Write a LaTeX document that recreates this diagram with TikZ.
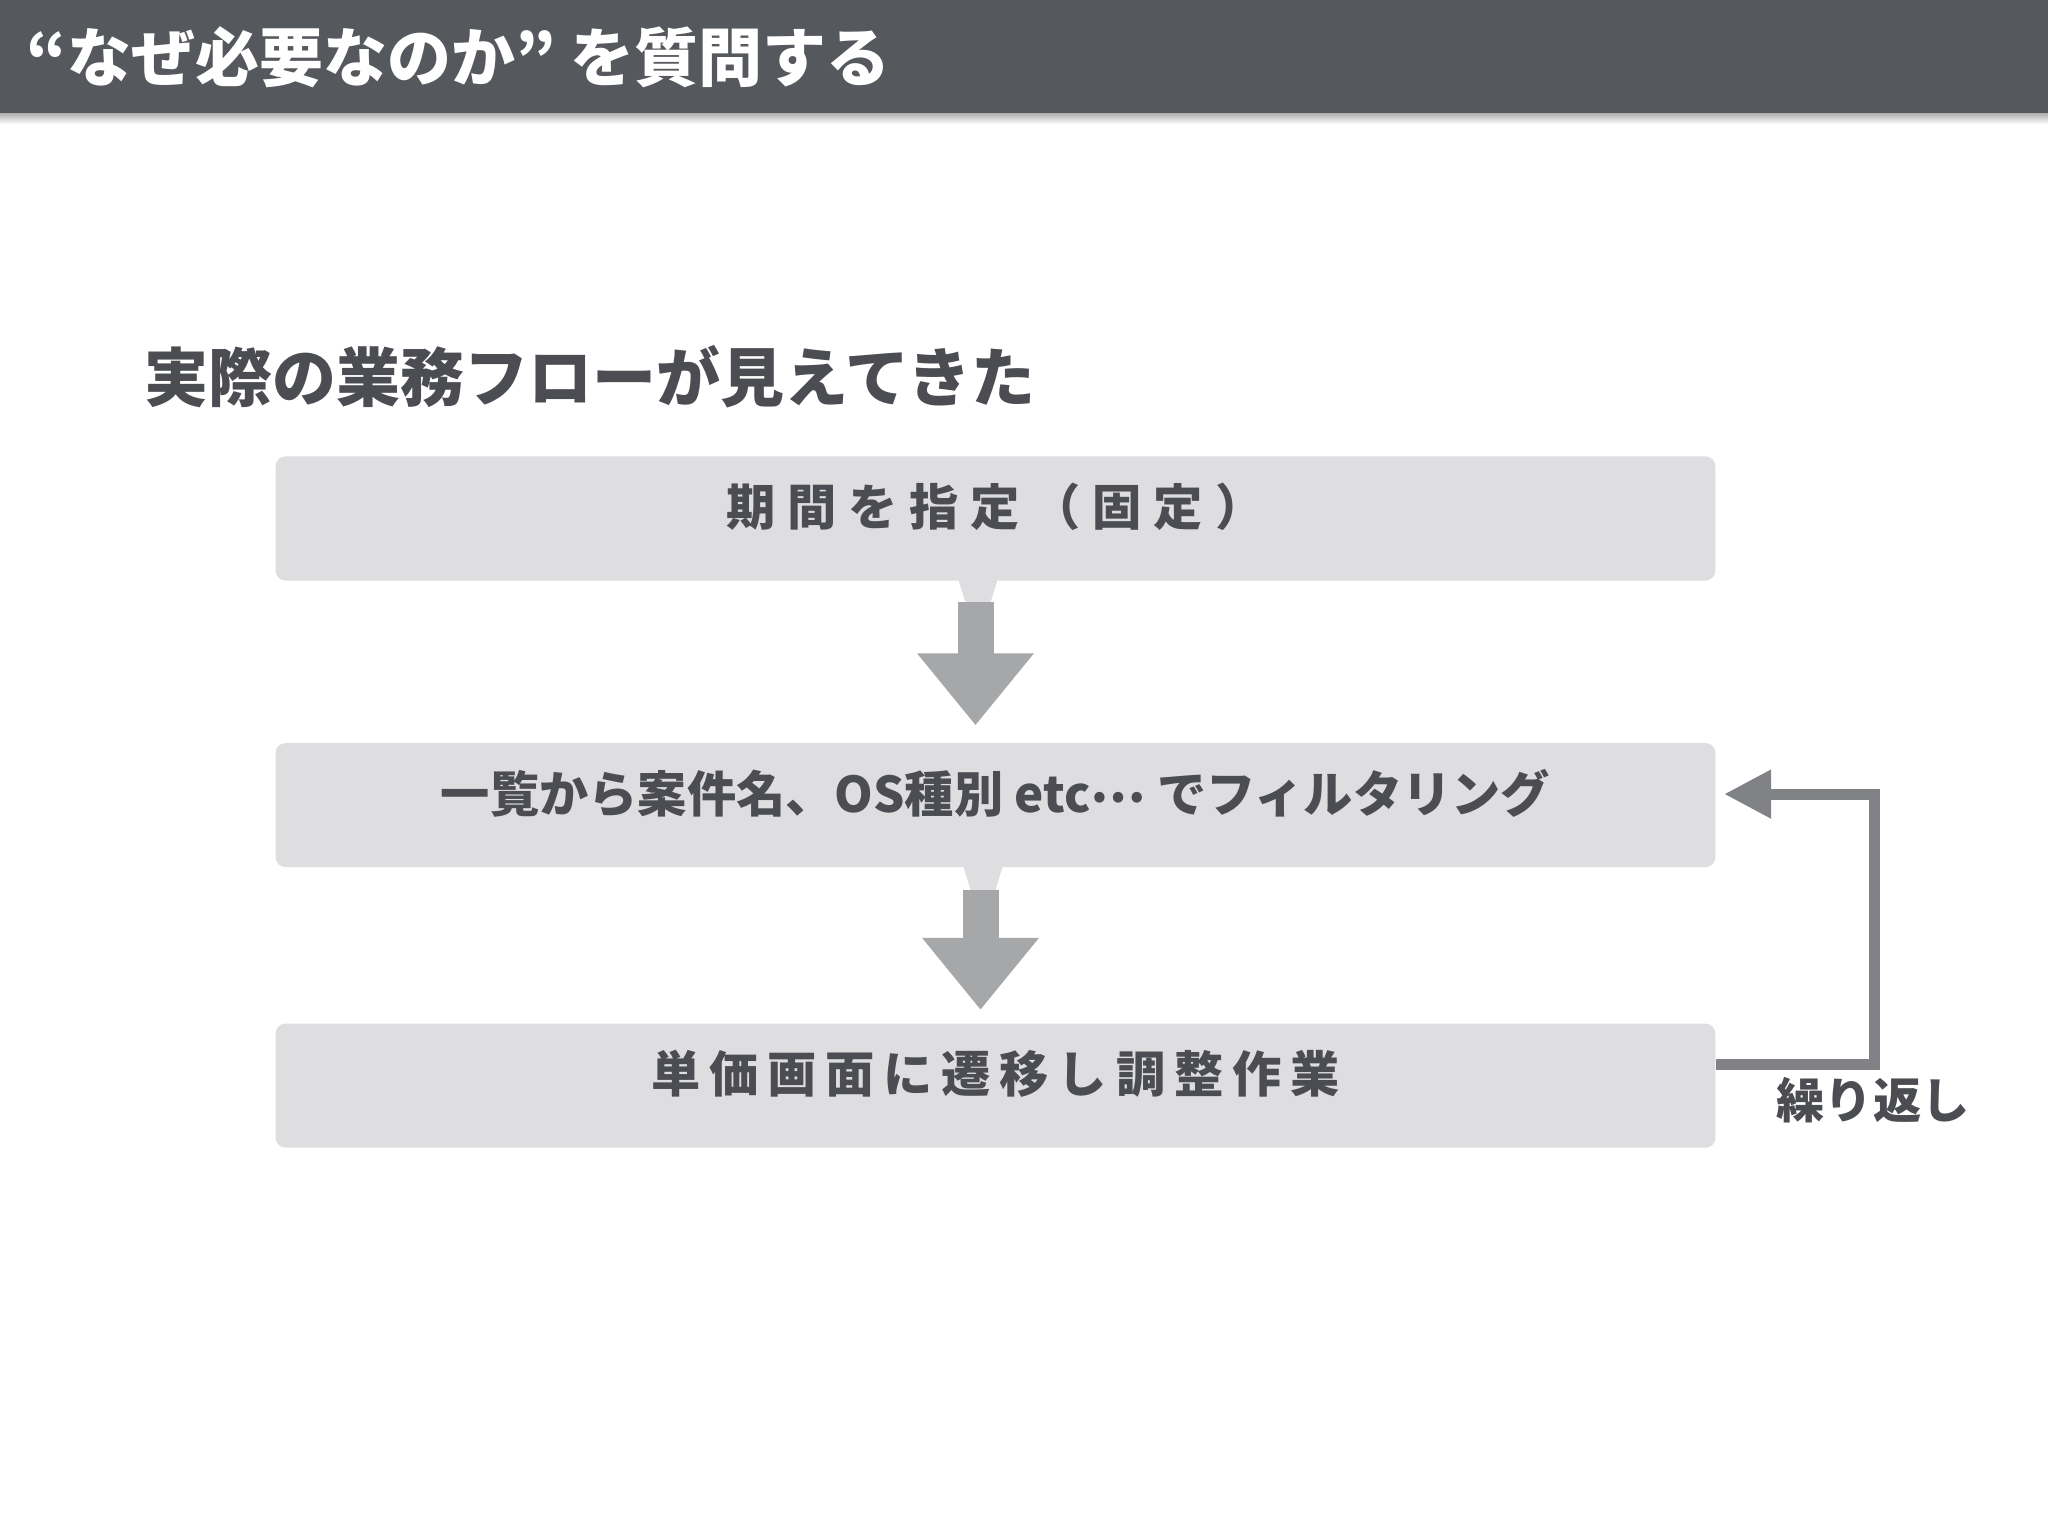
\documentclass[tikz,border=0pt]{standalone}
\usepackage{fontspec}
\setmainfont{Noto Sans CJK JP}
\newfontfamily\spacedjp{Noto Sans CJK JP}[LetterSpace=18]
\newfontfamily\widespacedjp{Noto Sans CJK JP}[LetterSpace=24]
\usetikzlibrary{arrows.meta}
\usetikzlibrary{calc,positioning}
\definecolor{bargrey}{HTML}{55585D}
\definecolor{boxgrey}{HTML}{DEDEE1}
\definecolor{textgrey}{HTML}{4B4D52}
\definecolor{arrowgrey}{HTML}{A6A7A9}
\definecolor{loopgrey}{HTML}{808286}
\newcommand{\middots}{\raisebox{0.2em}{…}}

\begin{document}
\begin{tikzpicture}[x=0.01cm, y=-0.01cm,
    flowbox/.style={fill=boxgrey, rounded corners=0.1cm, minimum width=14.39cm, minimum height=1.24cm,
        text=textgrey, font=\bfseries\fontsize{14}{16}\selectfont, text height=0.42cm, text depth=0.28cm},
    downarrow/.style={draw=arrowgrey, line width=0.36cm, -{Triangle[length=0.72cm, width=1.12cm]}},
    looparrow/.style={draw=loopgrey, line width=0.11cm, line join=miter, -{Triangle[length=0.47cm, width=0.46cm]}}]

    \useasboundingbox (0,0) rectangle (2048,1536);
    \fill[white] (0,0) rectangle (2048,1536);

    % header
    \shade[top color=black!35, bottom color=white] (0,112) rectangle (2048,124);
    \fill[bargrey] (0,0) rectangle (2048,113);
    \node[anchor=west, inner sep=0pt, text=white, font=\bfseries\fontsize{18.2}{20}\selectfont] (title) at (26,57) {“なぜ必要なのか” を質問する};

    \node[anchor=west, inner sep=0pt, text=textgrey, font=\bfseries\fontsize{18.2}{20}\selectfont] (sub) at (144,377) {実際の業務フローが見えてきた};

    % flow
    \node[flowbox] (b1) at (995.5,518.5) {\widespacedjp 期間を指定（固定）};
    \node[flowbox, below=1.61cm of b1] (b2) {一覧から案件名、OS種別 etc\middots{} でフィルタリング};
    \node[flowbox, below=1.55cm of b2] (b3) {\spacedjp 単価画面に遷移し調整作業};

    \fill[boxgrey] ($(b1.south)+(-37,-1)$) -- ++(39,0) -- ++(-7,22) -- ++(-25,0) -- cycle;
    \fill[boxgrey] ($(b2.south)+(-32,-1)$) -- ++(39,0) -- ++(-7,23) -- ++(-25,0) -- cycle;
    \draw[downarrow] ($(b1.south)+(-20,21)$) -- ($(b2.north)+(-20,-17)$);
    \draw[downarrow] ($(b2.south)+(-15,22)$) -- ($(b3.north)+(-15,-13)$);

    % repeat
    \draw[looparrow] ($(b3.east)+(0,-21)$) -| ($(b2.east)+(158,-11)$) -- ($(b2.east)+(8,-11)$);
    \node[text=textgrey, font=\bfseries\fontsize{13.7}{16}\selectfont] (rep) at (1873,1100) {繰り返し};

\end{tikzpicture}
\end{document}
